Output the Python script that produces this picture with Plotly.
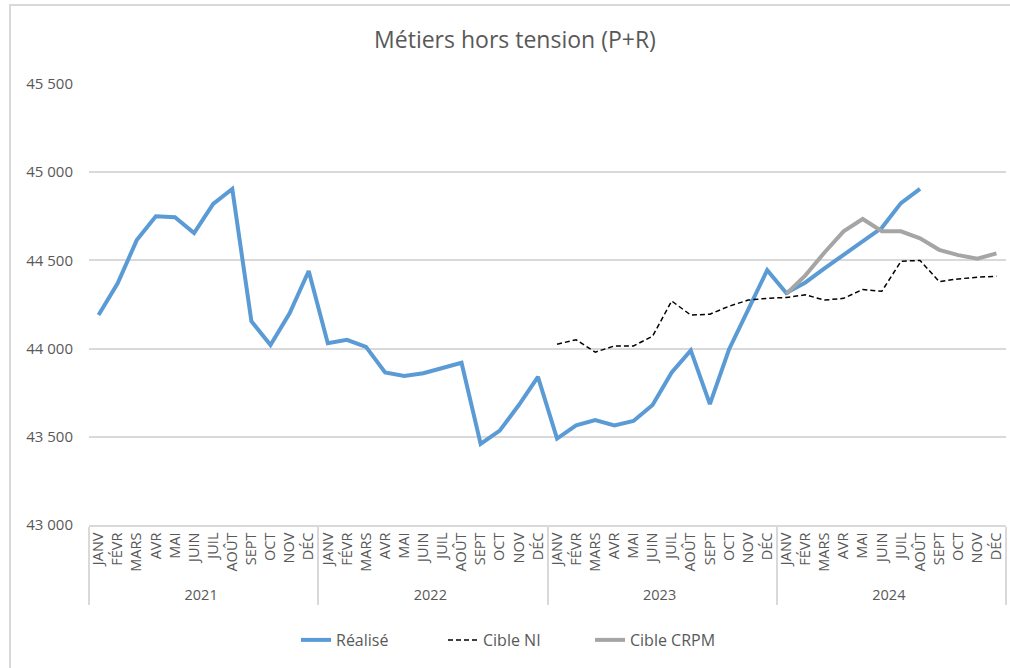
import plotly.graph_objects as go

years = ["2021", "2022", "2023", "2024"]
months = ["JANV", "FÉVR", "MARS", "AVR", "MAI", "JUIN", "JUIL", "AOÛT", "SEPT", "OCT", "NOV", "DÉC"]

realise = [
    44190, 44370, 44615, 44750, 44745, 44655, 44820, 44905, 44155, 44020, 44200, 44440,
    44030, 44050, 44010, 43865, 43845, 43860, 43890, 43920, 43460, 43535, 43680, 43840,
    43490, 43565, 43595, 43565, 43590, 43680, 43865, 43990, 43685, 43995, 44220, 44445,
    44315, 44375, 44455, 44530, 44605, 44685, 44825, 44905, None, None, None, None,
]
cible_ni = [None] * 24 + [
    44025, 44050, 43980, 44015, 44015, 44070, 44270, 44190, 44195, 44240, 44275, 44285,
    44290, 44305, 44275, 44285, 44335, 44325, 44495, 44500, 44380, 44395, 44405, 44410,
]
cible_crpm = [None] * 36 + [
    44310, 44415, 44545, 44665, 44735, 44665, 44665, 44625, 44560, 44530, 44510, 44540,
]

x_years = [y for y in years for _ in months]
x_months = [m for _ in years for m in months]
x = [x_years, x_months]

fig = go.Figure()
fig.add_trace(go.Scatter(x=x, y=realise, mode="lines", name="Réalisé",
                         line=dict(color="#5B9BD5", width=4)))
fig.add_trace(go.Scatter(x=x, y=cible_ni, mode="lines", name="Cible NI",
                         line=dict(color="#000000", width=1.5, dash="5px,3px")))
fig.add_trace(go.Scatter(x=x, y=cible_crpm, mode="lines", name="Cible CRPM",
                         line=dict(color="#A5A5A5", width=4)))

W, H = 1010, 668
L, R, T, B = 89, 4, 84, 143
pw, ph = W - L - R, H - T - B

def px(v):
    return (v - L) / pw

def py(v):
    return (H - B - v) / ph

fig.update_layout(
    width=W, height=H,
    margin=dict(l=L, r=R, t=T, b=B, autoexpand=False),
    paper_bgcolor="white", plot_bgcolor="white",
    font=dict(family="Open Sans, sans-serif", color="#595959", size=12),
    separators=", ",
    title=dict(text="Métiers hors tension (P+R)", x=px(515), xref="paper", xanchor="center",
               y=1 - 40 / H, yanchor="middle",
               font=dict(size=23, color="#595959")),
    showlegend=True,
    legend=dict(orientation="h", x=px(296), xanchor="left", y=py(640), yanchor="middle",
                font=dict(size=16, color="#595959"), tracegroupgap=0,
                entrywidth=102, entrywidthmode="pixels"),
    xaxis=dict(type="multicategory", tickangle=-90, showgrid=False,
               range=[-0.5, 47.5], autorange=False,
               showline=True, linecolor="#D9D9D9", linewidth=1.5,
               showdividers=True, dividercolor="#D9D9D9", dividerwidth=1.5,
               tickfont=dict(size=14.5, color="#595959"), ticks=""),
    yaxis=dict(range=[43000, 45500], dtick=500, tickformat=",d",
               showgrid=True, gridcolor="#D9D9D9", gridwidth=1.5,
               zeroline=False, ticks="", tickfont=dict(size=15, color="#595959"),
               ticklabelstandoff=15),
    shapes=[dict(type="rect", xref="paper", yref="paper",
                 x0=px(10), x1=px(1030), y0=py(700), y1=py(5),
                 line=dict(color="#D9D9D9", width=2), fillcolor="rgba(0,0,0,0)", layer="below")],
)

fig.write_html("out.html", config={"displayModeBar": False},
               post_script="document.body.style.margin='0';")
